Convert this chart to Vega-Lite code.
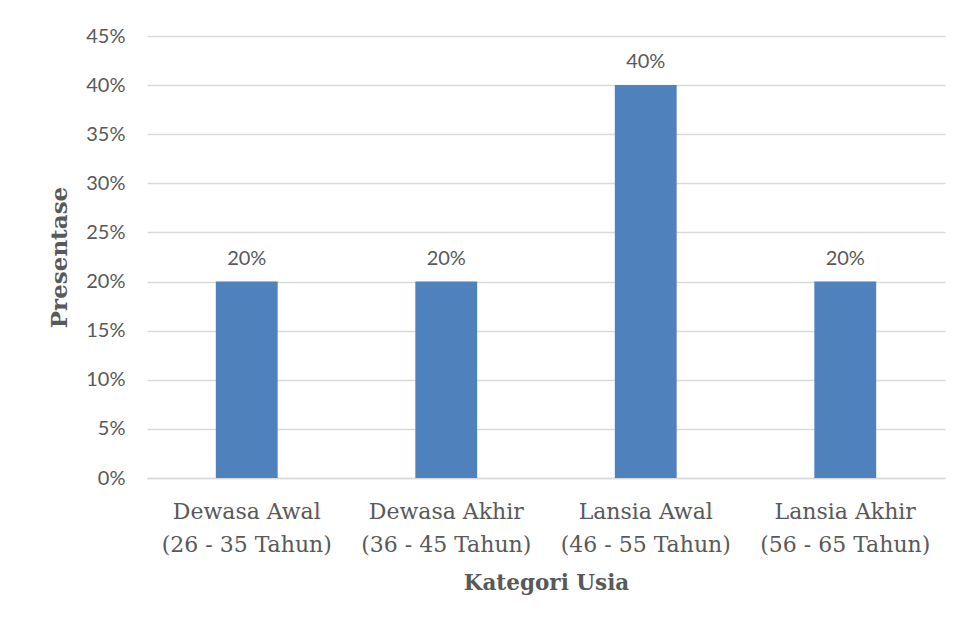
{
  "$schema": "https://vega.github.io/schema/vega-lite/v6.json",
  "width": 798,
  "height": 442,
  "autosize": {"type": "none"},
  "padding": {"left": 147, "top": 36, "right": 19, "bottom": 152},
  "background": "white",
  "config": {"view": {"stroke": null}},
  "data": {
    "values": [
      {"kategori": "Dewasa Awal|(26 - 35 Tahun)", "persen": 0.20},
      {"kategori": "Dewasa Akhir|(36 - 45 Tahun)", "persen": 0.20},
      {"kategori": "Lansia Awal|(46 - 55 Tahun)", "persen": 0.40},
      {"kategori": "Lansia Akhir|(56 - 65 Tahun)", "persen": 0.20}
    ]
  },
  "encoding": {
    "x": {
      "field": "kategori",
      "type": "nominal",
      "sort": null,
      "scale": {"paddingInner": 0.69, "paddingOuter": 0.345},
      "axis": {
        "title": "Kategori Usia",
        "titleFont": "DejaVu Serif",
        "titleFontSize": 21.5,
        "titleFontWeight": "bold",
        "titleColor": "#595959",
        "titlePadding": 17,
        "labelExpr": "split(datum.label, '|')",
        "labelAngle": 0,
        "labelFont": "DejaVu Serif",
        "labelFontSize": 22,
        "labelColor": "#595959",
        "labelLineHeight": 33,
        "labelPadding": 23,
        "ticks": false,
        "domainColor": "#d9d9d9",
        "domainWidth": 1.5
      }
    },
    "y": {
      "field": "persen",
      "type": "quantitative",
      "scale": {"domain": [0, 0.45], "nice": false},
      "axis": {
        "title": "Presentase",
        "titleFont": "DejaVu Serif",
        "titleFontSize": 23,
        "titleFontWeight": "bold",
        "titleColor": "#595959",
        "titlePadding": 14,
        "format": ".0%",
        "values": [0, 0.05, 0.1, 0.15, 0.2, 0.25, 0.3, 0.35, 0.4, 0.45],
        "labelFont": "Lato",
        "labelFontSize": 20,
        "labelColor": "#595959",
        "labelPadding": 22,
        "ticks": false,
        "domain": false,
        "gridColor": "#d9d9d9",
        "gridWidth": 1.5
      }
    }
  },
  "layer": [
    {"mark": {"type": "bar", "color": "#4f81bd"}},
    {
      "mark": {"type": "text", "baseline": "bottom", "dy": -13, "font": "Lato", "fontSize": 20, "color": "#595959"},
      "encoding": {"text": {"field": "persen", "type": "quantitative", "format": ".0%"}}
    }
  ]
}
